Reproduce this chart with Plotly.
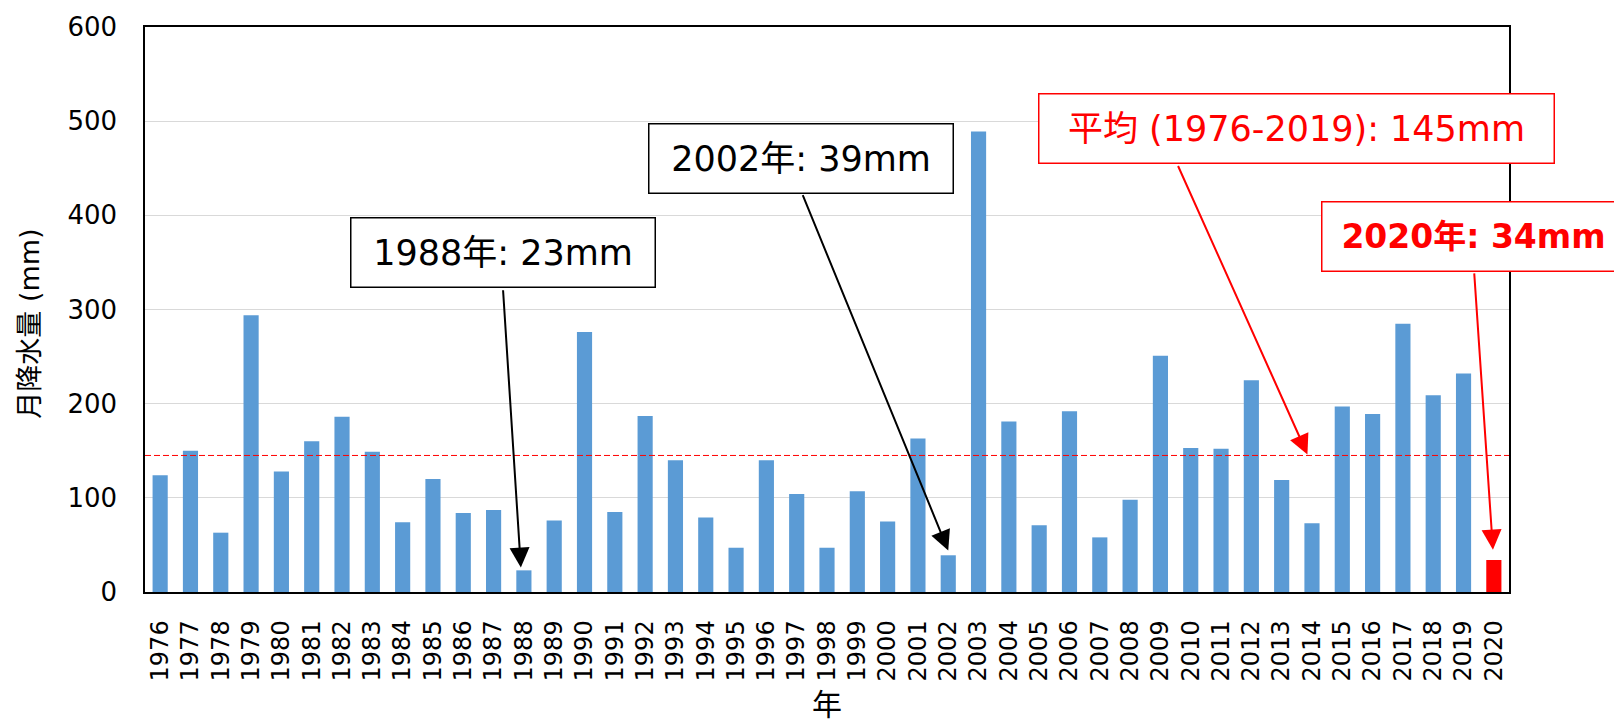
import plotly.graph_objects as go

years = list(range(1976, 2021))
rain_mm = [124, 150, 63, 294, 128, 160, 186, 149, 74, 120,
           84, 87, 23, 76, 276, 85, 187, 140, 79, 47,
           140, 104, 47, 107, 75, 163, 39, 489, 181, 71,
           192, 58, 98, 251, 153, 152, 225, 119, 73, 197,
           189, 285, 209, 232, 34]
year_labels = [str(y) for y in years]
mean_1976_2019 = 145

y_ticks = [0, 100, 200, 300, 400, 500, 600]

FONT = "DejaVu Sans, Noto Sans CJK JP, sans-serif"
BLUE = "#5b9bd5"
RED = "#ff0000"

colors = [BLUE] * (len(years) - 1) + [RED]

fig = go.Figure()
fig.add_trace(go.Bar(x=years, y=rain_mm, marker=dict(color=colors, line=dict(width=0)),
                     hoverinfo="x+y"))

fig.add_shape(type="line", xref="paper", x0=0, x1=1, yref="y",
              y0=mean_1976_2019, y1=mean_1976_2019,
              line=dict(color=RED, width=1, dash="6px,3px"))

# arrows (tail -> head) in data coordinates
arrows = [
    dict(ax=1987.31, ay=322, x=1987.9, y=26, color="black"),
    dict(ax=1997.18, ay=423, x=2002.0, y=44, color="black"),
    dict(ax=2009.56, ay=454, x=2013.85, y=146, color=RED),
    dict(ax=2019.35, ay=340, x=2019.97, y=45, color=RED),
]
for a in arrows:
    fig.add_annotation(x=a["x"], y=a["y"], ax=a["ax"], ay=a["ay"],
                       xref="x", yref="y", axref="x", ayref="y",
                       text="", showarrow=True, arrowhead=2, arrowsize=2,
                       arrowwidth=2, arrowcolor=a["color"])

# text boxes
boxes = [
    dict(x=1987.3, y=360.5, text="1988年: 23mm", color="black", w=303, size=35),
    dict(x=1997.15, y=460.5, text="2002年: 39mm", color="black", w=303, size=35),
    dict(x=2013.5, y=492, text="平均 (1976-2019): 145mm", color=RED, w=514, size=35),
    dict(x=2019.33, y=377.7, text="<b>2020年: 34mm</b>", color=RED, w=302, size=33),
]
for b in boxes:
    fig.add_annotation(x=b["x"], y=b["y"], xref="x", yref="y", text=b["text"],
                       showarrow=False, xanchor="center", yanchor="middle",
                       font=dict(family=FONT, size=b["size"], color=b["color"]),
                       bgcolor="white", bordercolor=b["color"], borderwidth=1.5,
                       borderpad=0, width=b["w"], height=68, align="center")

# axis titles
fig.add_annotation(x=0.5, y=-0.1995, xref="paper", yref="paper", text="年",
                   showarrow=False, yanchor="middle",
                   font=dict(family=FONT, size=30, color="black"))
fig.add_annotation(x=-0.0843, y=0.475, xref="paper", yref="paper", text="月降水量 (mm)",
                   showarrow=False, textangle=-90, xanchor="center", yanchor="middle",
                   font=dict(family=FONT, size=27, color="black"))

fig.update_layout(
    width=1614, height=721,
    margin=dict(l=145, r=105, t=23, b=129),
    paper_bgcolor="white", plot_bgcolor="white",
    bargap=0.5, showlegend=False,
    font=dict(family=FONT, color="black"),
)
fig.update_xaxes(range=[1975.5, 2020.5], tickmode="array", tickvals=years, ticktext=year_labels,
                 tickangle=-90, tickfont=dict(family=FONT, size=24, color="black"),
                 showgrid=False, showline=True, linecolor="black", linewidth=1.5, mirror=True,
                 ticks="", ticklabelstandoff=17, zeroline=False)
fig.update_yaxes(range=[0, 600], tickmode="array", tickvals=y_ticks,
                 tickfont=dict(family=FONT, size=26, color="black"),
                 showgrid=True, gridcolor="#d9d9d9", gridwidth=1,
                 showline=True, linecolor="black", linewidth=1.5, mirror=True,
                 ticks="", ticklabelstandoff=21, zeroline=False)

fig.write_html("out.html")
